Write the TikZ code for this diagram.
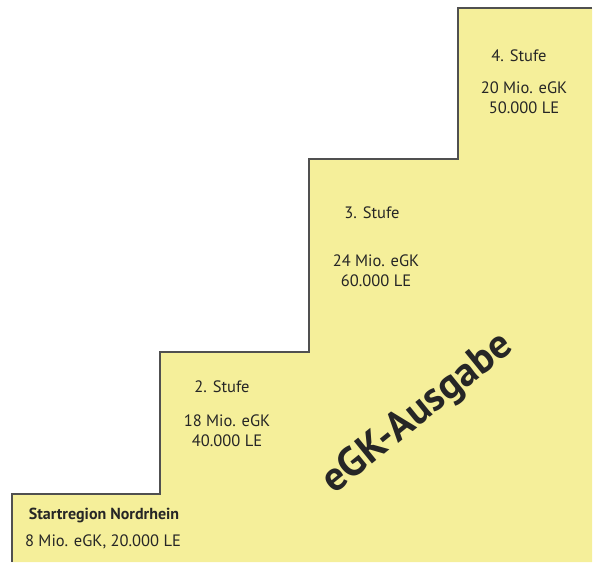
\documentclass[tikz,border=0pt]{standalone}
\usepackage{fontspec}
\setmainfont{PT Sans}
\definecolor{stufengelb}{HTML}{F5EF9A}
\definecolor{kante}{HTML}{505050}
\tikzset{
  stufentext/.style={font=\fontsize{16.5}{20}\selectfont, text=black!85, align=center},
}

\begin{document}
\begin{tikzpicture}[x=1pt,y=-1pt]
\useasboundingbox (0,0) rectangle (594,562);
\fill[stufengelb] (12,562) -- (12,494) -- (160,494) -- (160,352) -- (309,352) -- (309,159)
  -- (458,159) -- (458,8) -- (592,8) -- (592,562) -- cycle;
\draw[kante, line width=1.2pt] (12,562) -- (12,494) -- (160,494) -- (160,352) -- (309,352)
  -- (309,159) -- (458,159) -- (458,8) -- (592,8);
\node[stufentext, font=\fontsize{16}{20}\selectfont\bfseries] (start) at (104,515) {Startregion Nordrhein};
\node[stufentext] (startzahl) at (103,542) {8 Mio. eGK, 20.000 LE};
\node[stufentext] (stufe2) at (222,387) {2. Stufe};
\node[stufentext] (zahl2) at (227,431) {18 Mio. eGK\\40.000 LE};
\node[stufentext] (stufe3) at (372,213) {3. Stufe};
\node[stufentext] (zahl3) at (376,271) {24 Mio. eGK\\60.000 LE};
\node[stufentext] (stufe4) at (519,56) {4. Stufe};
\node[stufentext] (zahl4) at (524,98) {20 Mio. eGK\\50.000 LE};
\node[text=black!85, font=\fontsize{41}{44}\selectfont\bfseries, rotate=39] (ausgabe) at (418,414) {eGK-Ausgabe};
\end{tikzpicture}
\end{document}
